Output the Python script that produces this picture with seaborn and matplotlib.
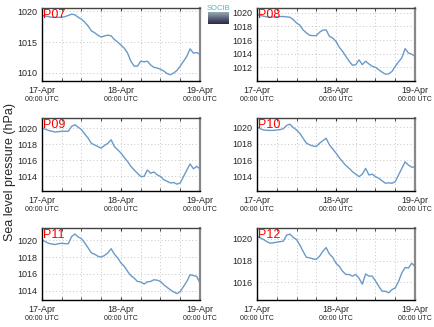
import numpy as np
import pandas as pd
import matplotlib
matplotlib.use("Agg")
import matplotlib.pyplot as plt
import seaborn as sns

# ---------------- data ----------------
hours = list(range(0, 49))
stations = ["P07", "P08", "P09", "P10", "P11", "P12"]

p07 = [1019.3, 1019.2, 1019.1, 1019.0, 1019.0, 1019.0, 1019.0, 1019.1, 1019.3, 1019.5,
       1019.4, 1019.0, 1018.7, 1018.2, 1017.6, 1016.8, 1016.5, 1016.1, 1015.8, 1016.0,
       1016.1, 1016.0, 1015.4, 1015.0, 1014.5, 1014.0, 1013.2, 1011.9, 1011.1, 1011.1,
       1011.9, 1011.8, 1011.9, 1011.3, 1010.9, 1010.8, 1010.6, 1010.3, 1009.9, 1009.7,
       1010.0, 1010.4, 1011.1, 1011.9, 1012.7, 1013.9, 1013.2, 1013.3, 1013.0]
p08 = [1019.75, 1019.6, 1019.5, 1019.4, 1019.35, 1019.4, 1019.4, 1019.45, 1019.45, 1019.4,
       1019.35, 1019.0, 1018.5, 1018.2, 1017.5, 1017.05, 1016.7, 1016.65, 1016.65, 1017.15,
       1017.45, 1017.5, 1016.55, 1016.3, 1015.8, 1014.95, 1014.35, 1013.6, 1012.9, 1012.3,
       1012.4, 1013.1, 1012.4, 1012.9, 1012.5, 1012.15, 1012.0, 1011.65, 1011.3, 1011.0,
       1011.05, 1011.4, 1012.15, 1012.8, 1013.4, 1014.75, 1014.1, 1013.95, 1013.6]
p09 = [1020.0, 1019.85, 1019.7, 1019.6, 1019.5, 1019.55, 1019.6, 1019.6, 1019.6, 1020.2,
       1020.4, 1020.1, 1019.8, 1019.25, 1018.75, 1018.1, 1017.9, 1017.7, 1017.5, 1017.85,
       1018.1, 1018.55, 1017.7, 1017.3, 1016.9, 1016.35, 1015.85, 1015.25, 1014.8, 1014.4,
       1014.0, 1014.0, 1014.8, 1014.4, 1014.55, 1014.2, 1014.0, 1013.6, 1013.4, 1013.2,
       1013.25, 1013.05, 1013.2, 1014.0, 1014.8, 1015.55, 1014.95, 1015.25, 1014.95]
p10 = [1020.0, 1019.8, 1019.65, 1019.6, 1019.6, 1019.6, 1019.65, 1019.7, 1019.8, 1020.2,
       1020.35, 1019.95, 1019.65, 1019.25, 1018.65, 1018.05, 1017.85, 1017.7, 1017.65, 1018.05,
       1018.35, 1018.65, 1017.85, 1017.35, 1016.85, 1016.3, 1015.8, 1015.35, 1015.0, 1014.6,
       1014.3, 1014.0, 1014.3, 1015.0, 1014.2, 1014.3, 1014.0, 1013.8, 1013.5, 1013.2,
       1013.25, 1013.2, 1013.4, 1014.2, 1015.0, 1015.8, 1015.4, 1015.15, 1015.15]
p11 = [1020.05, 1019.85, 1019.65, 1019.55, 1019.5, 1019.6, 1019.65, 1019.6, 1019.6, 1020.45,
       1020.75, 1020.4, 1020.2, 1019.7, 1019.1, 1018.5, 1018.35, 1018.1, 1018.0, 1018.2,
       1018.5, 1019.0, 1018.35, 1017.9, 1017.3, 1016.9, 1016.3, 1015.8, 1015.5, 1015.1,
       1015.05, 1014.8, 1015.05, 1015.1, 1015.3, 1015.25, 1015.1, 1014.7, 1014.4, 1014.1,
       1013.85, 1013.65, 1013.9, 1014.5, 1015.1, 1015.9, 1015.8, 1015.7, 1014.9]
p12 = [1020.25, 1020.1, 1019.95, 1019.75, 1019.6, 1019.65, 1019.7, 1019.75, 1019.8, 1020.35,
       1020.45, 1020.15, 1019.95, 1019.45, 1018.85, 1018.3, 1018.25, 1018.15, 1018.1, 1018.4,
       1018.85, 1019.2, 1018.6, 1018.3, 1017.75, 1017.45, 1017.0, 1016.7, 1016.7, 1016.55,
       1016.7, 1016.35, 1015.8, 1016.75, 1016.55, 1016.55, 1016.1, 1015.6, 1015.15, 1015.15,
       1015.0, 1015.3, 1015.45, 1016.05, 1016.85, 1017.35, 1017.3, 1017.75, 1017.45]
series = [p07, p08, p09, p10, p11, p12]

ylims = [(1008.7, 1020.5), (1010.0, 1020.7), (1012.2, 1021.24),
         (1012.26, 1021.1), (1012.89, 1021.47), (1014.33, 1021.02)]
yticks = [[1010, 1015, 1020], [1012, 1014, 1016, 1018, 1020], [1014, 1016, 1018, 1020],
          [1014, 1016, 1018, 1020], [1014, 1016, 1018, 1020], [1016, 1018, 1020]]
xtick_pos = [0, 24, 48]
xtick_days = ["17-Apr", "18-Apr", "19-Apr"]
xtick_time = "00:00 UTC"

# ---------------- plot ----------------
sns.set_style("white")
plt.rcParams["font.family"] = ["Liberation Sans", "DejaVu Sans"]

W, H = 435, 327
fig = plt.figure(figsize=(W / 100, H / 100), dpi=100)

cols = [42, 257]
rows = [(8, 81), (118, 191), (228, 300)]
line_color = "#6a9ac9"

for i, (name, vals) in enumerate(zip(stations, series)):
    r, c = divmod(i, 2)
    x0 = cols[c]
    top, bot = rows[r]
    hpx = bot - top
    ax = fig.add_axes([x0 / W, 1 - bot / H, 158 / W, hpx / H])
    df = pd.DataFrame({"hour": hours, "slp": vals})
    sns.lineplot(data=df, x="hour", y="slp", ax=ax, color=line_color, linewidth=1.0)
    ax.set_xlim(0, 48)
    ax.set_ylim(*ylims[i])
    ax.set_xlabel("")
    ax.set_ylabel("")
    ax.set_xticks(xtick_pos)
    ax.set_xticklabels(xtick_days, fontsize=6.5)
    ax.set_xticks(np.arange(6, 48, 6), minor=True)
    ax.set_yticks(yticks[i])
    ax.set_yticklabels([str(v) for v in yticks[i]], fontsize=6.5)
    ax.grid(True, which="both", axis="x", linestyle=(0, (1, 2.5)), color="#c4c4c4", linewidth=0.7)
    ax.grid(True, which="major", axis="y", linestyle=(0, (1, 2.5)), color="#c4c4c4", linewidth=0.7)
    ax.tick_params(axis="x", which="both", direction="in", length=2.5, top=True, bottom=True,
                   pad=3.5, color="#333333")
    ax.tick_params(axis="y", which="major", direction="out", length=2, pad=1.5, color="#333333")
    for s in ["left", "bottom"]:
        ax.spines[s].set_color("black")
        ax.spines[s].set_linewidth(1.0)
    ax.spines["top"].set_color("#444444")
    ax.spines["top"].set_linewidth(1.0)
    ax.spines["right"].set_color("#888888")
    ax.spines["right"].set_linewidth(1.6)
    for xp in xtick_pos:
        ax.text(xp, -15.0 / hpx, xtick_time, transform=ax.get_xaxis_transform(),
                ha="center", va="top", fontsize=5, color="#222222")
    ax.text(0.005, 0.985, name, transform=ax.transAxes, ha="left", va="top",
            fontsize=9, color="red")

fig.text(10 / W, 1 - 172 / H, "Sea level pressure (hPa)", rotation=90,
         ha="center", va="center", fontsize=9)

# small logo between top panels
lax = fig.add_axes([208 / W, 1 - 24 / H, 21 / W, 12 / H])
grad = np.linspace(0.65, 0.2, 20).reshape(-1, 1)
lax.imshow(grad, aspect="auto", cmap="bone", vmin=0, vmax=1, extent=[0, 1, 0, 1])
lax.axis("off")
fig.text(218.5 / W, 1 - 8 / H, "SOCIB", ha="center", va="center", fontsize=5.5, color="#33c0d8")

fig.savefig("out.png", dpi=100)
